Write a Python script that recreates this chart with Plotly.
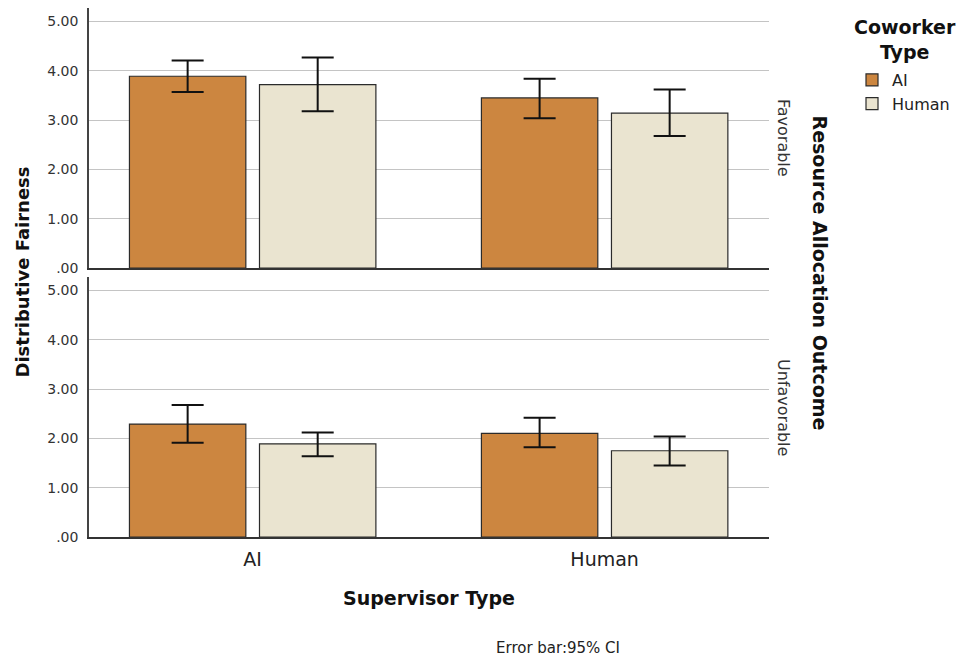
import plotly.graph_objects as go

# ---------------- data ----------------
supervisor_types = ["AI", "Human"]
coworker_types = ["AI", "Human"]

fav_ai_mean = [3.89, 3.45]
fav_ai_upper = [4.21, 3.84]
fav_ai_lower = [3.57, 3.04]

fav_human_mean = [3.72, 3.14]
fav_human_upper = [4.27, 3.62]
fav_human_lower = [3.18, 2.68]

unfav_ai_mean = [2.29, 2.10]
unfav_ai_upper = [2.68, 2.42]
unfav_ai_lower = [1.91, 1.82]

unfav_human_mean = [1.89, 1.75]
unfav_human_upper = [2.12, 2.04]
unfav_human_lower = [1.64, 1.45]

y_tick_vals = [0, 1, 2, 3, 4, 5]
y_tick_text = [".00", "1.00", "2.00", "3.00", "4.00", "5.00"]

# ---------------- style ----------------
FONT = "DejaVu Sans"
COL_AI = "#CC8640"
COL_HUMAN = "#EAE4D0"
OUTLINE = "#2b2b2b"


def bar(name, means, upper, lower, color, xa, ya, showlegend):
    return go.Bar(
        x=supervisor_types,
        y=means,
        name=name,
        legendgroup=name,
        showlegend=showlegend,
        xaxis=xa,
        yaxis=ya,
        marker=dict(color=color, line=dict(color=OUTLINE, width=1.2)),
        error_y=dict(
            type="data",
            symmetric=False,
            array=[u - m for u, m in zip(upper, means)],
            arrayminus=[m - l for m, l in zip(means, lower)],
            color="#111111",
            thickness=2,
            width=16,
        ),
        hoverinfo="skip",
    )


fig = go.Figure()
# top panel: Favorable
fig.add_trace(bar(coworker_types[0], fav_ai_mean, fav_ai_upper, fav_ai_lower, COL_AI, "x2", "y2", True))
fig.add_trace(bar(coworker_types[1], fav_human_mean, fav_human_upper, fav_human_lower, COL_HUMAN, "x2", "y2", True))
# bottom panel: Unfavorable
fig.add_trace(bar(coworker_types[0], unfav_ai_mean, unfav_ai_upper, unfav_ai_lower, COL_AI, "x", "y", False))
fig.add_trace(bar(coworker_types[1], unfav_human_mean, unfav_human_upper, unfav_human_lower, COL_HUMAN, "x", "y", False))

L, R, T, B = 89, 191, 8, 123
ph = 660 - T - B  # 529
gap_top = (537 - 268) / ph
gap_bot = (537 - 277) / ph
yr = [0, 5.274]
xr = [-0.465, 1.467]

yaxis_common = dict(
    range=yr,
    tickvals=y_tick_vals,
    ticktext=y_tick_text,
    tickfont=dict(family=FONT, size=14, color="#333333"),
    showgrid=True,
    gridcolor="#c4c4c4",
    gridwidth=1.3,
    zeroline=False,
    showline=True,
    linecolor="#444444",
    linewidth=1.5,
    ticks="",
    ticklabelstandoff=6,
    automargin=False,
    fixedrange=True,
)

fig.update_layout(
    width=960,
    height=660,
    margin=dict(l=L, r=R, t=T, b=B, autoexpand=False),
    paper_bgcolor="white",
    plot_bgcolor="white",
    barmode="group",
    bargap=0.261,
    bargroupgap=0.105,
    font=dict(family=FONT, color="#222222"),
    xaxis=dict(
        domain=[0, 1],
        anchor="y",
        range=xr,
        type="category",
        showline=True,
        linecolor="#333333",
        linewidth=1.5,
        showgrid=False,
        ticks="",
        tickfont=dict(family=FONT, size=19, color="#222222"),
        ticklabelstandoff=4,
        automargin=False,
        fixedrange=True,
    ),
    xaxis2=dict(
        domain=[0, 1],
        anchor="y2",
        range=xr,
        type="category",
        matches="x",
        showline=True,
        linecolor="#333333",
        linewidth=1.5,
        showgrid=False,
        ticks="",
        showticklabels=False,
        automargin=False,
        fixedrange=True,
    ),
    yaxis=dict(domain=[0, gap_bot], anchor="x", **yaxis_common),
    yaxis2=dict(domain=[gap_top, 1], anchor="x2", **yaxis_common),
    legend=dict(
        xref="container",
        yref="container",
        x=852 / 960,
        xanchor="left",
        y=1 - 63 / 660,
        yanchor="top",
        bgcolor="rgba(0,0,0,0)",
        font=dict(family=FONT, size=16, color="#222222"),
        tracegroupgap=0,
        itemclick=False,
        itemdoubleclick=False,
    ),
    showlegend=True,
)


def px_x(px):
    return (px - L) / 680


def px_y(py):
    return (537 - py) / ph


annos = [
    dict(text="<b>Coworker<br>Type</b>", x=px_x(905), y=px_y(39), align="center",
         font=dict(size=19, color="#111111")),
    dict(text="<b>Distributive Fairness</b>", x=px_x(22), y=px_y(272.5), textangle=-90,
         font=dict(size=18, color="#111111")),
    dict(text="<b>Resource Allocation Outcome</b>", x=px_x(820), y=px_y(272.5), textangle=90,
         font=dict(size=19, color="#111111")),
    dict(text="Favorable", x=px_x(784), y=px_y(138), textangle=90,
         font=dict(size=16, color="#333333")),
    dict(text="Unfavorable", x=px_x(784), y=px_y(407), textangle=90,
         font=dict(size=16, color="#333333")),
    dict(text="<b>Supervisor Type</b>", x=px_x(429), y=px_y(598),
         font=dict(size=19, color="#111111")),
    dict(text="Error bar:95% CI", x=px_x(558), y=px_y(648),
         font=dict(size=15, color="#222222")),
]
for a in annos:
    a.update(xref="paper", yref="paper", showarrow=False, xanchor="center", yanchor="middle")
    a["font"]["family"] = FONT
fig.update_layout(annotations=annos)

fig.write_html(
    "out.html",
    config={"displayModeBar": False},
    post_script="document.body.style.margin='0';document.body.style.overflow='hidden';",
)
